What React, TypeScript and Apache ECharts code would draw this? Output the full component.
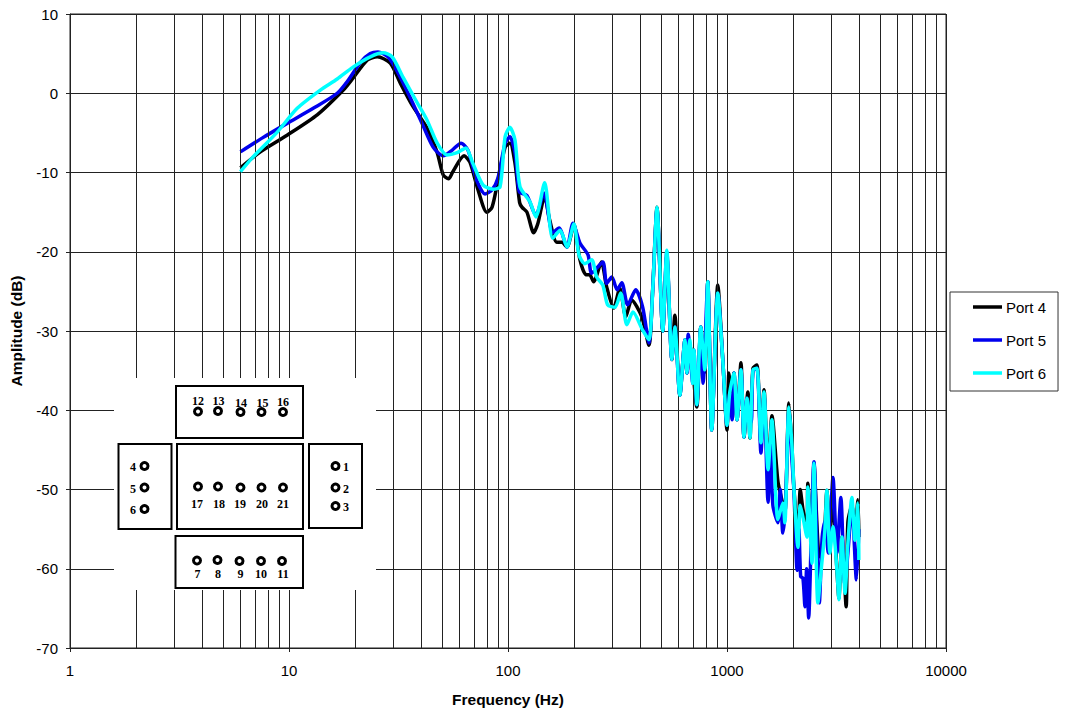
import React, { useEffect, useRef } from "react";
import * as echarts from "echarts";

const xTicks = ["1", "10", "100", "1000", "10000"];
const seriesNames = ["Port 4", "Port 5", "Port 6"];
const seriesColors = ["#000000", "#0000EE", "#00FFFF"];
const minorFreqs = [
  2, 3, 4, 5, 6, 7, 8, 9, 20, 30, 40, 50, 60, 70, 80, 90, 200, 300, 400, 500, 600, 700, 800, 900,
  2000, 3000, 4000, 5000, 6000, 7000, 8000, 9000,
];

const port4 = [
  [6, -9.4], [7.4, -7.4], [9.8, -5.3], [13.5, -2.7], [17.7, 0.4], [19.6, 1.9], [22.8, 4.2], [25.3, 4.6], [29, 3.8],
  [32.2, 1.3], [36.5, -1.5], [42.7, -4.4], [47.5, -7.5], [50.6, -10.3], [53.5, -10.8], [56, -9.9], [63, -7.9], [67, -8.7],
  [73, -12.2], [80, -15], [84.5, -14.4], [90, -11], [97, -6.8], [102, -6.3], [107.6, -8.8], [113, -13.8], [116, -14.4],
  [122, -15], [131, -17.6], [137, -16.4], [147, -13], [155, -16], [167, -18.8], [176, -18.8], [186, -19.4], [200, -16.6],
  [213, -21], [227, -22.9], [236, -22.9], [246, -23.8], [267, -21.3], [282, -24.4], [304, -27.1], [324, -24.6], [345, -28.2],
  [367, -26.1], [408, -28.2], [440, -31.8], [458, -24.6], [479, -14.4], [509, -30], [531, -20.5], [560, -33.6], [578, -28],
  [609, -38.1], [643, -31.1], [656, -35.3], [676, -31.8], [728, -39.6], [759, -29.5], [792, -35.2], [817, -23.8], [852, -42.5],
  [908, -24.2], [957, -33.7], [1000, -42.5], [1020, -35.3], [1050, -40], [1076, -35.3], [1111, -41.2], [1158, -34], [1196, -43.4],
  [1245, -37.7], [1273, -43.5], [1314, -34.7], [1370, -34.3], [1429, -44.1], [1476, -37.4], [1540, -47.5], [1604, -40.7],
  [1708, -49], [1780, -51.3], [1837, -53], [1917, -39.1], [1976, -44.1], [2020, -49.7], [2108, -56], [2160, -50], [2222, -52.5], [2317, -55],
  [2340, -49.2], [2443, -58.5], [2495, -46.7], [2640, -58.5], [2710, -58], [2799, -54.5], [2858, -50.1], [2951, -55],
  [3048, -52], [3177, -60.2], [3243, -63.7], [3350, -56], [3500, -64.8], [3565, -54.1], [3718, -52], [3837, -55.5],
  [3963, -51.3], [4000, -56],
];

const port5 = [
  [6, -7.4], [7.6, -5.6], [9.8, -3.8], [12.9, -1.9], [16.6, 0], [18.7, 1.7], [21.2, 3.9], [23.5, 5], [25.5, 5.2], [28.3, 4.6],
  [31, 2.9], [35.7, -0.5], [40.5, -3.8], [45.5, -6.8], [50.6, -7.9], [55.5, -7.2], [61, -6.3], [65.7, -7.2], [72, -11],
  [78.5, -12.7], [84.5, -12.2], [90, -10.7], [97, -6.3], [102, -5.5], [107.6, -7.5], [111, -11.3], [113, -12.5], [122, -12.9],
  [134, -15.4], [146, -12.6], [160, -17.6], [171, -17], [186, -19.4], [198, -16.4], [213, -18.9], [232, -20.4], [241, -22.7],
  [271, -21.3], [282, -24], [298, -23.2], [315, -24.8], [331, -23.9], [352, -26.7], [383, -24.8], [412, -27], [440, -31.5],
  [458, -24.8], [479, -14.6], [509, -30], [531, -20], [560, -33.6], [578, -29.5], [609, -38.1], [643, -31.1], [656, -35.3],
  [665, -30.4], [698, -36.6], [706, -32.4], [728, -39.3], [759, -29.5], [778, -36.6], [817, -23.8], [852, -42.5], [908, -25.2],
  [957, -33.7], [1000, -41.9], [1029, -37.8], [1055, -41.2], [1076, -35.3], [1111, -41.2], [1158, -34.9], [1196, -43.4],
  [1234, -38.5], [1290, -41.5], [1314, -35], [1370, -34.7], [1429, -45.4], [1476, -38], [1540, -51.6], [1580, -44], [1620, -52], [1708, -54.2],
  [1750, -50], [1799, -55.5], [1850, -52], [1917, -40], [1976, -46], [2020, -50], [2090, -60.2], [2130, -55], [2170, -61], [2222, -61.2],
  [2270, -64.8], [2310, -60], [2360, -66.2], [2420, -57], [2495, -46.5], [2640, -64.3], [2720, -56], [2799, -54], [2900, -58], [3048, -48.5],
  [3177, -58], [3310, -51], [3450, -62], [3565, -58], [3718, -52], [3900, -61.4], [4000, -55],
];

const port6 = [
  [6, -9.9], [6.87, -8], [8.84, -4.9], [10.9, -1.9], [13.9, 0.4], [16.6, 1.8], [19.6, 3.3], [23.5, 4.6], [26.9, 5.1], [29.6, 4.6],
  [33.2, 2], [38.5, -1.2], [42.7, -3.4], [47.5, -6.3], [52.7, -7.8], [58.6, -7.5], [64.3, -6.9], [69, -8.8], [77, -11.6],
  [85.5, -12.1], [92, -11.8], [97, -5.5], [102, -4.3], [107.6, -5.9], [113.4, -11.8], [126, -13.7], [134, -15.6], [147, -11.3],
  [160, -18.3], [173, -17.3], [186, -19.4], [200, -16.5], [211, -20.4], [224, -21.5], [241, -21], [254, -23.2], [271, -24.2],
  [285, -26.7], [308, -27], [327, -25.2], [349, -29.2], [372, -27.6], [412, -29.9], [440, -31.1], [458, -24.8], [479, -14.4],
  [509, -30], [531, -19.8], [560, -33.6], [578, -29.5], [609, -38.1], [643, -31.1], [656, -35.3], [676, -31.1], [698, -36.6],
  [706, -32.4], [728, -39.3], [759, -29.5], [792, -34.9], [817, -23.8], [852, -42.5], [908, -25.2], [957, -33.7], [1000, -41.9],
  [1029, -37.8], [1076, -35.3], [1111, -41.2], [1158, -34.9], [1196, -43.4], [1234, -38.5], [1273, -43.5], [1314, -34.9],
  [1370, -34.7], [1429, -44.1], [1476, -37.7], [1540, -47.5], [1604, -41.2], [1708, -53.8], [1799, -51.7], [1837, -54.2],
  [1917, -39.6], [1976, -44.1], [2020, -49.7], [2108, -57.3], [2160, -52], [2222, -53.5], [2317, -56], [2340, -49.7], [2443, -59.3],
  [2495, -46.7], [2600, -64.3], [2710, -59.3], [2799, -55.1], [2858, -50.1], [2951, -58], [3048, -54.7], [3177, -60.2],
  [3243, -63.9], [3350, -56], [3459, -63.1], [3565, -56.8], [3718, -51], [3837, -56.4], [3963, -51.7], [4000, -58.9],
];

const portData = [port4, port5, port6];

const serif = "'Liberation Serif', 'Times New Roman', serif";
const sans = "'Liberation Sans', Arial, sans-serif";

function box(x: number, y: number, w: number, h: number) {
  return {
    type: "rect",
    shape: { x, y, width: w, height: h },
    style: { fill: "#fff", stroke: "#000", lineWidth: 2 },
    z: 101,
  };
}

function pin(label: string, cx: number, cy: number, lx: number, ly: number) {
  return [
    {
      type: "circle",
      shape: { cx, cy, r: 3.5 },
      style: { fill: "#fff", stroke: "#000", lineWidth: 3 },
      z: 102,
    },
    {
      type: "text",
      x: lx,
      y: ly,
      style: {
        text: label,
        fill: "#000",
        font: `bold 12px ${serif}`,
        align: "center",
        verticalAlign: "middle",
      },
      z: 102,
    },
  ];
}

const insetGraphic = [
  {
    type: "rect",
    shape: { x: 114, y: 378, width: 262, height: 212 },
    style: { fill: "#fff" },
    z: 100,
  },
  box(176, 386, 127, 52),
  box(177, 444, 126, 85),
  box(118.5, 444, 53, 85),
  box(309, 444, 53, 84),
  box(175.5, 536, 127.5, 52),
  ...pin("12", 198, 411.5, 198, 401),
  ...pin("13", 218, 411, 218.5, 401),
  ...pin("14", 240.5, 412, 241, 403),
  ...pin("15", 261.5, 412, 262.5, 403),
  ...pin("16", 283, 412, 283, 402),
  ...pin("17", 198, 486.5, 197, 504),
  ...pin("18", 218, 486.5, 219, 504),
  ...pin("19", 240.5, 487.5, 240, 504),
  ...pin("20", 261.5, 487.5, 262, 504),
  ...pin("21", 283, 487.5, 283, 504),
  ...pin("7", 197, 560.5, 197.5, 574),
  ...pin("8", 217.5, 560, 218, 574),
  ...pin("9", 239.5, 561, 240.5, 574),
  ...pin("10", 261, 561, 261, 574),
  ...pin("11", 282, 561, 283, 574),
  ...pin("4", 144.5, 466, 133, 467),
  ...pin("5", 144.5, 487.5, 133, 489),
  ...pin("6", 144.5, 509, 133, 510),
  ...pin("1", 335.5, 466, 346, 467),
  ...pin("2", 335.5, 487.5, 346, 489),
  ...pin("3", 335.5, 506, 346, 507),
];

export default function App() {
  const ref = useRef<HTMLDivElement>(null);
  useEffect(() => {
    const chart = echarts.init(ref.current!, null, { renderer: "svg" });
    chart.setOption({
      animation: false,
      backgroundColor: "#fff",
      grid: {
        left: 69.5,
        right: 123,
        top: 14,
        bottom: 65,
        show: true,
        borderColor: "#222",
        borderWidth: 1,
        backgroundColor: "transparent",
      },
      legend: {
        data: seriesNames,
        orient: "vertical",
        left: 950,
        top: 292,
        icon: "rect",
        itemWidth: 29,
        itemHeight: 3.5,
        itemGap: 17,
        padding: [7, 12, 10, 23],
        borderColor: "#333",
        borderWidth: 1,
        backgroundColor: "#fff",
        textStyle: { color: "#000", fontSize: 15, fontFamily: sans, padding: [0, 0, 0, -1], lineHeight: 16 },
      },
      xAxis: {
        type: "log",
        logBase: 10,
        min: 1,
        max: 10000,
        name: "Frequency (Hz)",
        nameLocation: "middle",
        nameGap: 43,
        nameTextStyle: { color: "#000", fontSize: 15.5, fontWeight: "bold", fontFamily: sans },
        axisLine: { onZero: false, lineStyle: { color: "#222", width: 1 } },
        axisTick: { show: true, length: 4, lineStyle: { color: "#222" } },
        axisLabel: {
          color: "#000",
          fontSize: 15,
          fontFamily: sans,
          margin: 15,
          formatter: (v: number) => xTicks[Math.round(Math.log10(v))] ?? String(v),
        },
        splitLine: { show: true, lineStyle: { color: "#222", width: 1 } },
        minorTick: { show: false },
        minorSplitLine: { show: false },
      },
      yAxis: {
        type: "value",
        min: -70,
        max: 10,
        interval: 10,
        name: "Amplitude (dB)",
        nameLocation: "middle",
        nameGap: 46,
        nameTextStyle: { color: "#000", fontSize: 15.5, fontWeight: "bold", fontFamily: sans },
        axisLine: { show: true, onZero: false, lineStyle: { color: "#222", width: 1 } },
        axisTick: { show: true, length: 4, lineStyle: { color: "#222" } },
        axisLabel: { color: "#000", fontSize: 15, fontFamily: sans, margin: 12 },
        splitLine: { show: true, lineStyle: { color: "#222", width: 1 } },
      },
      graphic: insetGraphic,
      series: [
        {
          type: "line",
          name: "grid",
          data: [],
          z: 1,
          silent: true,
          markLine: {
            silent: true,
            symbol: "none",
            label: { show: false },
            lineStyle: { color: "#222", width: 1, type: "solid" },
            data: minorFreqs.map((f) => ({ xAxis: f })),
          },
        },
        ...seriesNames.map((name, i) => ({
          type: "line",
          name,
          data: portData[i],
          z: 3 + i,
          showSymbol: false,
          symbol: "none",
          smooth: 0.25,
          clip: true,
          itemStyle: { color: seriesColors[i] },
          lineStyle: { color: seriesColors[i], width: 3.5, join: "round" },
        })),
      ],
    });
    return () => chart.dispose();
  }, []);
  return <div ref={ref} style={{ position: "fixed", left: 0, top: 0, width: 1069, height: 713 }} />;
}
